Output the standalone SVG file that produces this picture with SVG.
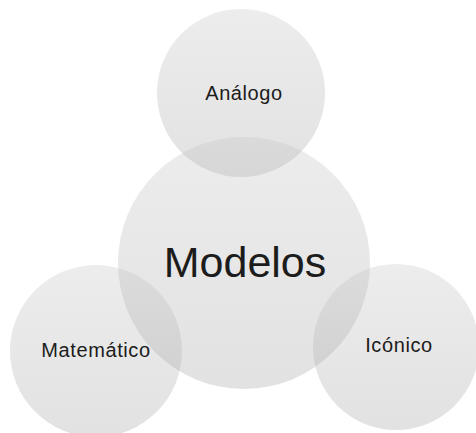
<svg xmlns="http://www.w3.org/2000/svg" width="476" height="433" viewBox="0 0 476 433">
<defs>
<linearGradient id="g" x1="0" y1="0" x2="0" y2="1">
<stop offset="0" stop-color="#c2c2c2"/>
<stop offset="1" stop-color="#9e9e9e"/>
</linearGradient>
<style>
.c{fill:url(#g);fill-opacity:0.3}
.t{font-family:"Liberation Sans","Open Sans",Arial,sans-serif;fill:#1c1c1c;text-anchor:middle}
.s{font-size:20px;letter-spacing:0.6px}
</style>
</defs>
<rect width="476" height="433" fill="#ffffff"/>
<g id="analogo"><circle class="c" cx="241" cy="93" r="84"/><text class="t s" x="244" y="100">Análogo</text></g>
<g id="modelos"><circle class="c" cx="244" cy="263" r="126"/><text class="t" x="245" y="277" font-size="43">Modelos</text></g>
<g id="matematico"><circle class="c" cx="96" cy="351" r="86"/><text class="t s" x="96" y="357">Matemático</text></g>
<g id="iconico"><circle class="c" cx="396" cy="347" r="83"/><text class="t s" x="399" y="352">Icónico</text></g>
<g id="connectors"/>
</svg>
